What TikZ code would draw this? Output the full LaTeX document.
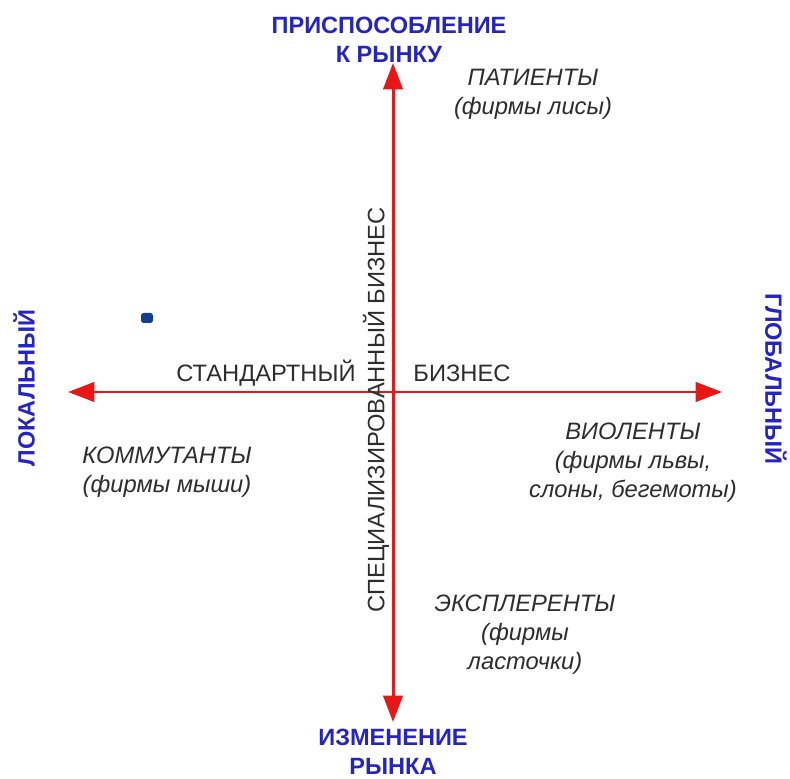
\documentclass[tikz,border=0pt]{standalone}
\usepackage{fontspec}
\setmainfont{Liberation Sans}
\usetikzlibrary{arrows.meta}

\definecolor{poleblue}{RGB}{36,36,196}
\definecolor{axisred}{RGB}{232,22,22}
\definecolor{textgray}{RGB}{45,45,45}
\definecolor{dotblue}{RGB}{18,62,140}

\tikzset{
    axis/.style={line width=1.7pt, axisred, {Triangle[length=15pt,width=11pt]}-{Triangle[length=15pt,width=11pt]}},
    pole/.style={text=poleblue, font=\fontsize{13.4}{16.5}\selectfont\bfseries, align=center, inner sep=0pt},
    kind/.style={text=textgray, font=\fontsize{13.5}{16.5}\selectfont\itshape, align=center, inner sep=0pt},
    business/.style={text=textgray, font=\fontsize{13.5}{16}\selectfont, inner sep=0pt}
}

\begin{document}
\begin{tikzpicture}

        \useasboundingbox (0,0) rectangle (15.8,15.56);

        \coordinate (top) at (7.86, 14.30);
        \coordinate (bottom) at (7.86, 1.12);
        \coordinate (left) at (1.36, 7.72);
        \coordinate (right) at (14.44, 7.72);

        % axes
        \draw[axis] (bottom) -- (top);
        \draw[axis] (left) -- (right);

        % poles
        \node[pole] (adapt) at (7.78, 14.76) {ПРИСПОСОБЛЕНИЕ\\К РЫНКУ};
        \node[pole] (change) at (7.86, 0.52) {ИЗМЕНЕНИЕ\\РЫНКА};
        \node[pole, rotate=90] (local) at (0.48, 7.80) {ЛОКАЛЬНЫЙ};
        \node[pole, rotate=-90] (global) at (15.52, 7.98) {ГЛОБАЛЬНЫЙ};

        \node[business] (std) at (5.32, 8.10) {СТАНДАРТНЫЙ};
        \node[business] (biz) at (9.24, 8.10) {БИЗНЕС};
        \node[business, rotate=90] (spec) at (7.52, 7.36) {СПЕЦИАЛИЗИРОВАННЫЙ БИЗНЕС};

        % quadrants
        \node[kind] (patients) at (10.66, 13.68) {ПАТИЕНТЫ\\(фирмы лисы)};
        \node[kind] (commutants) at (3.34, 6.12) {КОММУТАНТЫ\\(фирмы мыши)};
        \node[kind] (violents) at (12.66, 6.30) {ВИОЛЕНТЫ\\(фирмы львы,\\слоны, бегемоты)};
        \node[kind] (explerents) at (10.50, 2.86) {ЭКСПЛЕРЕНТЫ\\(фирмы\\ласточки)};

        \fill[dotblue, rounded corners=1.5pt] (2.82, 9.10) rectangle (3.06, 9.30);

    \end{tikzpicture}
\end{document}
